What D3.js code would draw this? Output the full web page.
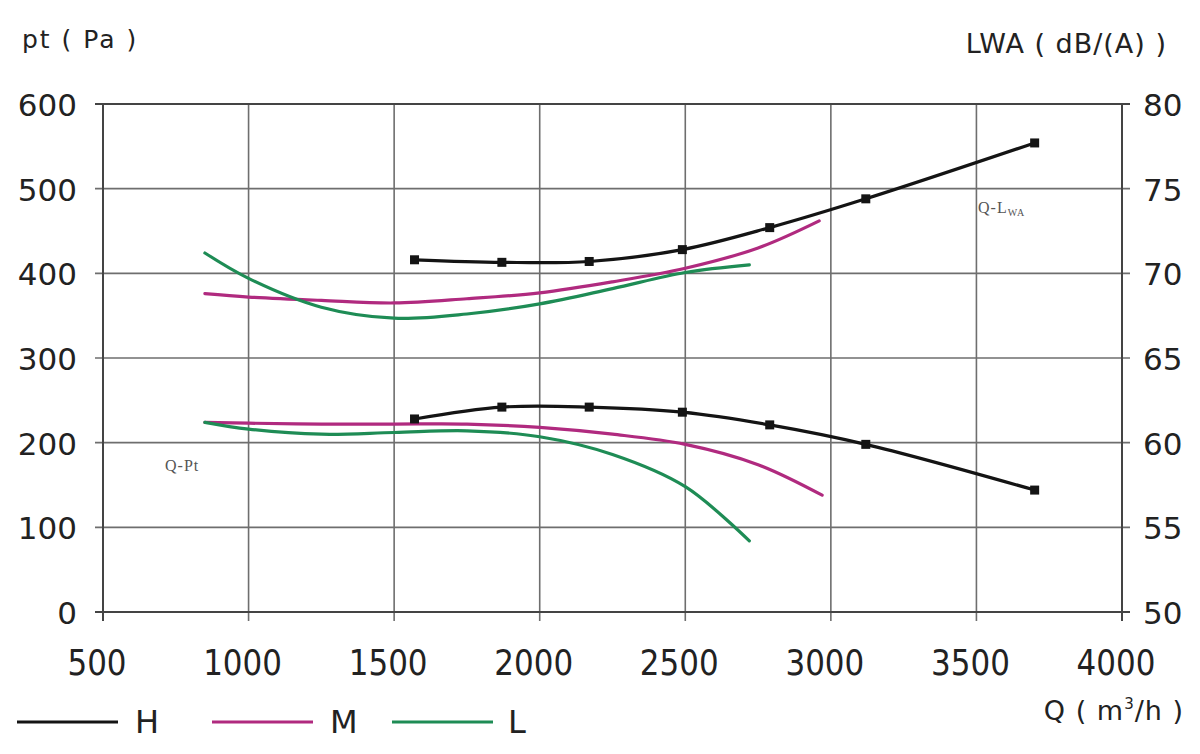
<!DOCTYPE html>
<html>
<head>
<meta charset="utf-8">
<script src="https://cdn.jsdelivr.net/npm/d3@7"></script>
<style>
  body { margin: 0; background: #fff; }
  text { font-family: "DejaVu Sans", "Open Sans", sans-serif; fill: #222; }
  text.serif { font-family: "Liberation Serif", "DejaVu Serif", serif; fill: #555; }
</style>
</head>
<body>
<svg id="chart" width="1200" height="754"></svg>
<script>
// ---- data ----
const xTicks = [500, 1000, 1500, 2000, 2500, 3000, 3500, 4000];
const ptTicks = [0, 100, 200, 300, 400, 500, 600];
const lwaTicks = [50, 55, 60, 65, 70, 75, 80];

// H speed (marked points)
const hQ   = [1570, 1870, 2170, 2490, 2790, 3120, 3700];
const hPt  = [228, 242, 242, 236, 221, 198, 144];
const hLwa = [70.8, 70.65, 70.7, 71.4, 72.7, 74.4, 77.7];

// M speed
const mQ   = [850, 1000, 1250, 1500, 1750, 2000, 2250, 2500, 2750, 2970];
const mPt  = [224, 223, 222, 222, 222, 218, 210, 198, 174, 138];
const mLwaQ = [850, 1000, 1250, 1500, 1750, 2000, 2250, 2500, 2750, 2960];
const mLwa = [68.8, 68.6, 68.4, 68.25, 68.5, 68.85, 69.5, 70.3, 71.5, 73.1];

// L speed
const lQ   = [850, 1000, 1250, 1500, 1750, 2000, 2250, 2500, 2720];
const lPt  = [224, 216, 210, 212, 214, 207, 186, 148, 84];
const lLwa = [71.2, 69.7, 68.0, 67.35, 67.6, 68.2, 69.1, 70.05, 70.5];

const colH = "#141414", colM = "#b02a7f", colL = "#1e8c55";

const svg = d3.select("#chart");
const pL = 103, pR = 1122, pT = 104, pB = 612;

const x = d3.scaleLinear().domain([500, 4000]).range([pL, pR]);
const yPt = d3.scaleLinear().domain([0, 600]).range([pB, pT]);
const yL = d3.scaleLinear().domain([50, 80]).range([pB, pT]);

// grid
svg.append("g").selectAll("line").data(xTicks.slice(1, -1)).join("line")
  .attr("x1", d => x(d)).attr("x2", d => x(d))
  .attr("y1", pT).attr("y2", pB + 9)
  .attr("stroke", "#6e6e6e").attr("stroke-width", 1.6);
svg.append("g").selectAll("line").data(ptTicks.slice(1, -1)).join("line")
  .attr("x1", pL - 8).attr("x2", pR + 8)
  .attr("y1", d => yPt(d)).attr("y2", d => yPt(d))
  .attr("stroke", "#6e6e6e").attr("stroke-width", 1.6);

// frame
svg.append("rect").attr("x", pL).attr("y", pT)
  .attr("width", pR - pL).attr("height", pB - pT)
  .attr("fill", "none").attr("stroke", "#444").attr("stroke-width", 2);
// outer tick stubs
[pT, pB].forEach(yy => {
  svg.append("line").attr("x1", pL - 8).attr("x2", pL).attr("y1", yy).attr("y2", yy)
    .attr("stroke", "#444").attr("stroke-width", 2);
  svg.append("line").attr("x1", pR).attr("x2", pR + 8).attr("y1", yy).attr("y2", yy)
    .attr("stroke", "#444").attr("stroke-width", 2);
});
[pL, pR].forEach(xx => {
  svg.append("line").attr("x1", xx).attr("x2", xx).attr("y1", pB).attr("y2", pB + 9)
    .attr("stroke", "#444").attr("stroke-width", 2);
});

// tick labels
svg.append("g").selectAll("text").data(ptTicks).join("text")
  .attr("x", 77).attr("y", d => yPt(d) + 12)
  .attr("text-anchor", "end").attr("font-size", 31).text(d => d);
svg.append("g").selectAll("text").data(lwaTicks).join("text")
  .attr("x", 1143).attr("y", d => yL(d) + 12)
  .attr("text-anchor", "start").attr("font-size", 31).text(d => d);
svg.append("g").selectAll("text").data(xTicks).join("text")
  .attr("transform", d => `translate(${x(d) - 6},675) scale(1,1.15)`)
  .attr("text-anchor", "middle").attr("font-size", 31).text(d => d);

// axis titles
svg.append("text").attr("x", 22).attr("y", 48).attr("font-size", 25)
  .attr("letter-spacing", 2).text("pt ( Pa )");
svg.append("text").attr("x", 1167).attr("y", 53).attr("text-anchor", "end")
  .attr("font-size", 27).attr("letter-spacing", 1).text("LWA ( dB/(A) )");
const qt = svg.append("text").attr("x", 1184).attr("y", 720).attr("text-anchor", "end")
  .attr("font-size", 27).attr("letter-spacing", 1);
qt.append("tspan").text("Q ( m");
qt.append("tspan").attr("font-size", 15).attr("dy", -11).text("3");
qt.append("tspan").attr("dy", 11).text("/h )");

// curve labels
svg.append("text").attr("class", "serif").attr("x", 165).attr("y", 471)
  .attr("font-size", 16).attr("letter-spacing", 1).text("Q-Pt");
const ql = svg.append("text").attr("class", "serif").attr("x", 978).attr("y", 213)
  .attr("font-size", 16).attr("letter-spacing", 1);
ql.append("tspan").text("Q-L");
ql.append("tspan").attr("font-size", 10).attr("dy", 3).text("WA");

// curves
const lineOf = (qs, vs, ys) => d3.line()
  .x((d, i) => x(qs[i])).y(d => ys(d))
  .curve(d3.curveCatmullRom.alpha(0.5))(vs);

const series = [
  { q: mQ, v: mPt, s: yPt, c: colM },
  { q: mLwaQ, v: mLwa, s: yL, c: colM },
  { q: lQ, v: lPt, s: yPt, c: colL },
  { q: lQ, v: lLwa, s: yL, c: colL },
  { q: hQ, v: hPt, s: yPt, c: colH },
  { q: hQ, v: hLwa, s: yL, c: colH }
];
svg.append("g").selectAll("path").data(series).join("path")
  .attr("d", d => lineOf(d.q, d.v, d.s))
  .attr("fill", "none").attr("stroke", d => d.c)
  .attr("stroke-width", 3.2).attr("stroke-linecap", "round");

// H markers
const sq = 9;
svg.append("g").selectAll("rect").data(hPt).join("rect")
  .attr("x", (d, i) => x(hQ[i]) - sq / 2).attr("y", d => yPt(d) - sq / 2)
  .attr("width", sq).attr("height", sq).attr("fill", colH);
svg.append("g").selectAll("rect").data(hLwa).join("rect")
  .attr("x", (d, i) => x(hQ[i]) - sq / 2).attr("y", d => yL(d) - sq / 2)
  .attr("width", sq).attr("height", sq).attr("fill", colH);

// legend
const legend = [
  { name: "H", c: colH, x0: 17, tx: 135 },
  { name: "M", c: colM, x0: 212, tx: 330 },
  { name: "L", c: colL, x0: 392, tx: 508 }
];
const lg = svg.append("g").selectAll("g").data(legend).join("g");
lg.append("line").attr("x1", d => d.x0).attr("x2", d => d.x0 + 101)
  .attr("y1", 722).attr("y2", 722).attr("stroke", d => d.c).attr("stroke-width", 3);
lg.append("text").attr("x", d => d.tx).attr("y", 733)
  .attr("font-size", 32).text(d => d.name);
</script>
</body>
</html>
